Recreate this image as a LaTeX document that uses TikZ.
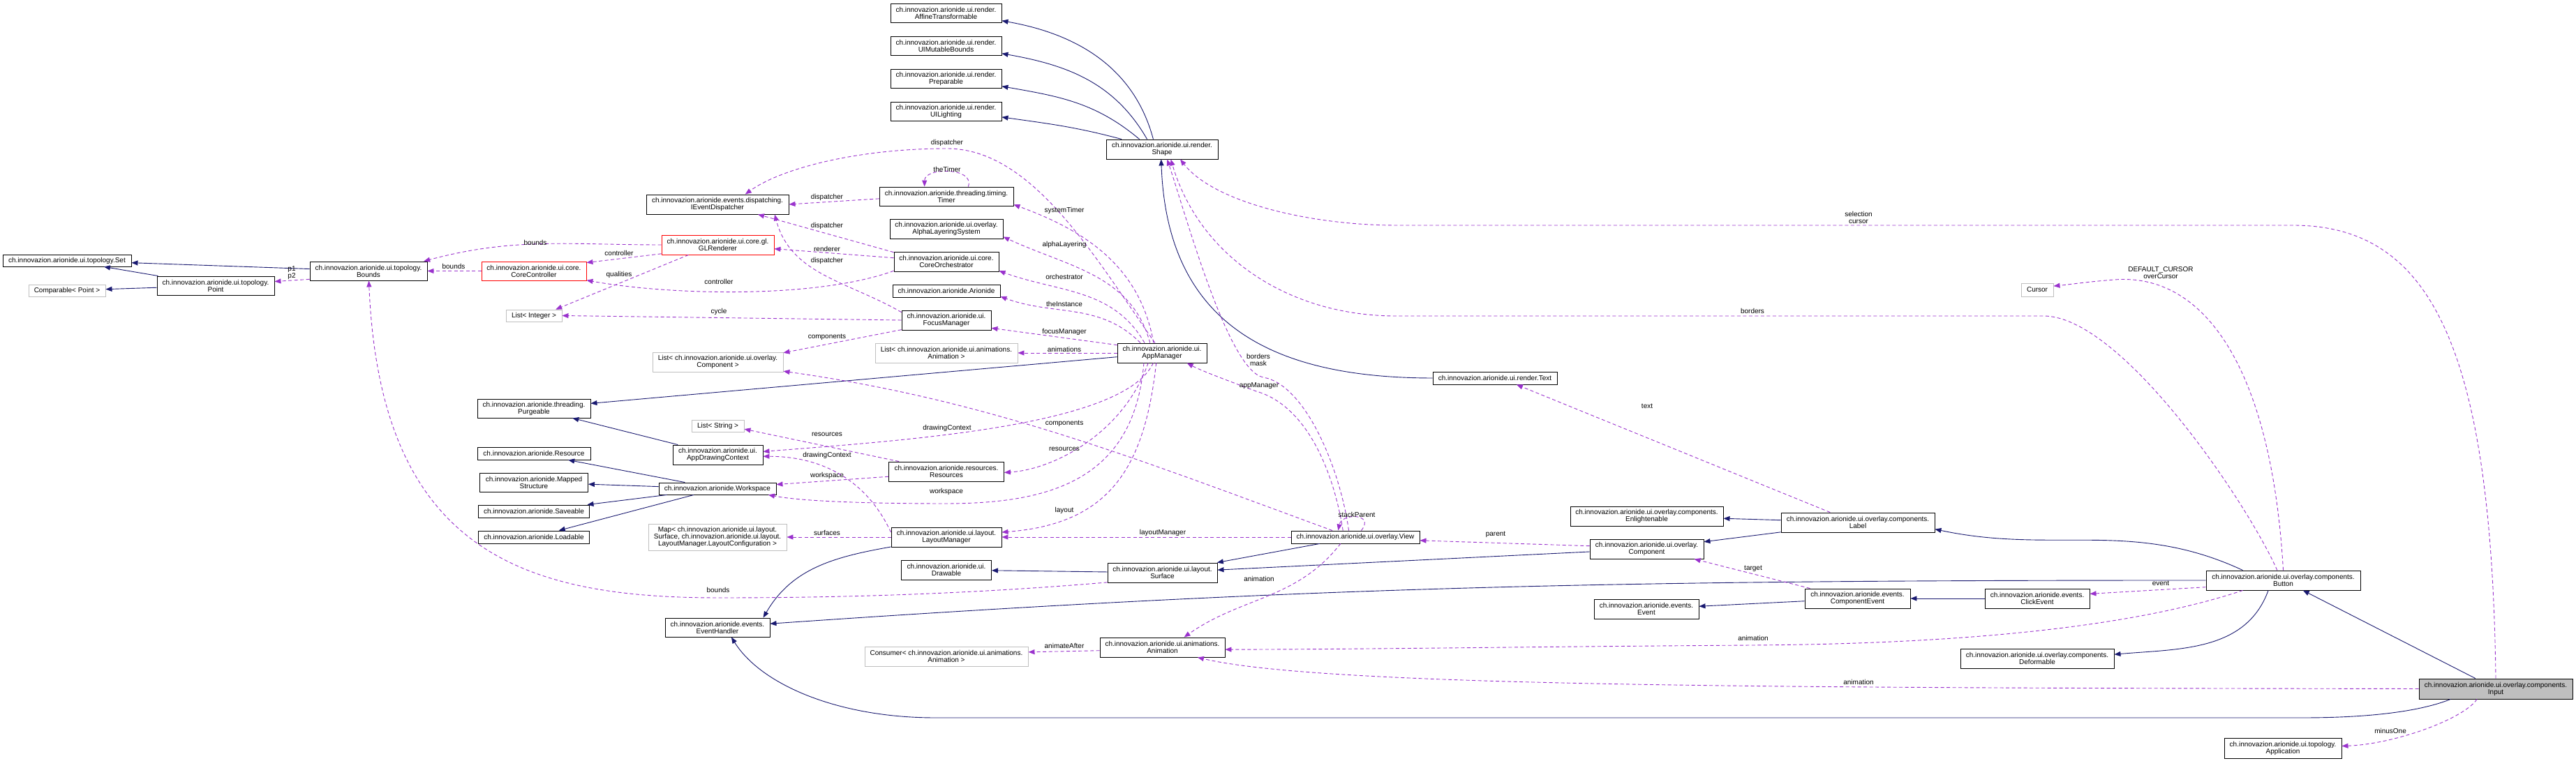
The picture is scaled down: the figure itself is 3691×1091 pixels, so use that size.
\documentclass[tikz,border=0pt]{standalone}
\usepackage{fontspec}
\setmainfont{Liberation Sans}
\usetikzlibrary{arrows.meta}
\definecolor{InhBlue}{HTML}{191970}
\definecolor{MemOrchid}{HTML}{9A32CD}
\definecolor{ExtGray}{HTML}{BFBFBF}
\newcommand{\dxfont}{\fontsize{10}{10}\selectfont}
\tikzset{
  cls/.style={rectangle,draw=black,fill=white,line width=0.9pt,align=center,
              inner xsep=2pt,inner ysep=1pt,font=\dxfont},
  ext/.style={cls,draw=ExtGray},
  trunc/.style={cls,draw=red},
  cur/.style={cls,fill=ExtGray},
  wh/.style 2 args={minimum width=#1pt,minimum height=#2pt},
  inh/.style={-{Triangle[length=9pt,width=7pt]},line width=0.9pt,color=InhBlue},
  mem/.style={-{Triangle[length=9pt,width=7pt]},line width=0.9pt,color=MemOrchid,
              dash pattern=on 5pt off 3.5pt},
  lbl/.style={font=\dxfont,text=black,align=center,inner sep=0pt},
}

\begin{document}
\begin{tikzpicture}[x=1pt,y=1pt]
  \path[fill=white,use as bounding box] (0,0) rectangle (3691,1091);

  % render column
  \node[cls,wh={159}{27}] (affine)  at (1355.5,1072.5) {ch.innovazion.arionide.ui.render.\\AffineTransformable};
  \node[cls,wh={159}{27}] (mutable) at (1355.5,1025.5) {ch.innovazion.arionide.ui.render.\\UIMutableBounds};
  \node[cls,wh={159}{27}] (prep)    at (1355.5,978.5)  {ch.innovazion.arionide.ui.render.\\Preparable};
  \node[cls,wh={159}{27}] (light)   at (1355.5,931.5)  {ch.innovazion.arionide.ui.render.\\UILighting};
  \node[cls,wh={160}{28}] (shp)     at (1665,877)      {ch.innovazion.arionide.ui.render.\\Shape};

  % topology and core
  \node[cls,wh={184}{17}]   (set)    at (96,717.5)   {ch.innovazion.arionide.ui.topology.Set};
  \node[ext,wh={110}{17}]   (cmp)    at (96,674.5)   {Comparable< Point >};
  \node[cls,wh={168}{27}]   (point)  at (309,681.5)  {ch.innovazion.arionide.ui.topology.\\Point};
  \node[cls,wh={168}{27}]   (bounds) at (528,702.5)  {ch.innovazion.arionide.ui.topology.\\Bounds};
  \node[trunc,wh={150}{27}] (ctrl)   at (765,702.5)  {ch.innovazion.arionide.ui.core.\\CoreController};
  \node[ext,wh={80}{17}]    (ilist)  at (765,638.5)  {List< Integer >};
  \node[trunc,wh={161}{28}] (glr)    at (1028.5,740) {ch.innovazion.arionide.ui.core.gl.\\GLRenderer};
  \node[cls,wh={204}{28}]   (disp)   at (1028,798)   {ch.innovazion.arionide.events.dispatching.\\IEventDispatcher};
  \node[ext,wh={187}{28}]   (clist)  at (1028.5,572) {List< ch.innovazion.arionide.ui.overlay.\\Component >};

  % members of the app manager
  \node[cls,wh={192}{27}] (timer) at (1356,809.5) {ch.innovazion.arionide.threading.timing.\\Timer};
  \node[cls,wh={162}{28}] (alpha) at (1356,763)   {ch.innovazion.arionide.ui.overlay.\\AlphaLayeringSystem};
  \node[cls,wh={150}{28}] (orch)  at (1356,716)   {ch.innovazion.arionide.ui.core.\\CoreOrchestrator};
  \node[cls,wh={154}{18}] (ario)  at (1356,674)   {ch.innovazion.arionide.Arionide};
  \node[cls,wh={128}{28}] (focus) at (1356,632)   {ch.innovazion.arionide.ui.\\FocusManager};
  \node[ext,wh={204}{28}] (alist) at (1356,585)   {List< ch.innovazion.arionide.ui.animations.\\Animation >};
  \node[cls,wh={128}{28}] (app)   at (1665,585)   {ch.innovazion.arionide.ui.\\AppManager};

  % resources and workspace
  \node[cls,wh={162}{27}] (purge)  at (765,505.5)    {ch.innovazion.arionide.threading.\\Purgeable};
  \node[ext,wh={75}{17}]  (slist)  at (1028.5,480.5) {List< String >};
  \node[cls,wh={129}{28}] (adc)    at (1028.5,439)   {ch.innovazion.arionide.ui.\\AppDrawingContext};
  \node[cls,wh={162}{18}] (res)    at (765,441)      {ch.innovazion.arionide.Resource};
  \node[cls,wh={155}{27}] (mapped) at (765,399.5)    {ch.innovazion.arionide.Mapped\\Structure};
  \node[cls,wh={168}{17}] (wsp)    at (1028,390.5)   {ch.innovazion.arionide.Workspace};
  \node[cls,wh={165}{28}] (rsrc)   at (1356,415)     {ch.innovazion.arionide.resources.\\Resources};
  \node[cls,wh={159}{18}] (save)   at (765,358)      {ch.innovazion.arionide.Saveable};
  \node[cls,wh={159}{18}] (load)   at (765,321)      {ch.innovazion.arionide.Loadable};

  % layout
  \node[ext,wh={198}{38}] (smap)     at (1028,321)   {Map< ch.innovazion.arionide.ui.layout.\\Surface, ch.innovazion.arionide.ui.layout.\\LayoutManager.LayoutConfiguration >};
  \node[cls,wh={158}{28}] (lay)      at (1356,321)   {ch.innovazion.arionide.ui.layout.\\LayoutManager};
  \node[cls,wh={129}{28}] (drawable) at (1356,274)   {ch.innovazion.arionide.ui.\\Drawable};
  \node[cls,wh={157}{28}] (surf)     at (1665.5,270) {ch.innovazion.arionide.ui.layout.\\Surface};
  \node[cls,wh={150}{27}] (evh)      at (1028,191.5) {ch.innovazion.arionide.events.\\EventHandler};
  \node[ext,wh={234}{28}] (cons)     at (1356,150)   {Consumer< ch.innovazion.arionide.ui.animations.\\Animation >};
  \node[cls,wh={179}{28}] (anim)     at (1665.5,163) {ch.innovazion.arionide.ui.animations.\\Animation};

  % overlay
  \node[cls,wh={184}{18}] (view)   at (1942,321)    {ch.innovazion.arionide.ui.overlay.View};
  \node[cls,wh={178}{18}] (txt)    at (2142,549)    {ch.innovazion.arionide.ui.render.Text};
  \node[cls,wh={219}{28}] (enl)    at (2359.5,351)  {ch.innovazion.arionide.ui.overlay.components.\\Enlightenable};
  \node[cls,wh={163}{28}] (comp)   at (2359.5,304)  {ch.innovazion.arionide.ui.overlay.\\Component};
  \node[cls,wh={150}{28}] (evt)    at (2359,218)    {ch.innovazion.arionide.events.\\Event};
  \node[cls,wh={220}{28}] (lab)    at (2662,342)    {ch.innovazion.arionide.ui.overlay.components.\\Label};
  \node[cls,wh={151}{28}] (cev)    at (2661.5,233)  {ch.innovazion.arionide.events.\\ComponentEvent};
  \node[cls,wh={150}{28}] (click)  at (2919,233)    {ch.innovazion.arionide.events.\\ClickEvent};
  \node[ext,wh={46}{19}]  (cursor) at (2919,675.5)  {Cursor};
  \node[cls,wh={220}{28}] (deform) at (2919,147)    {ch.innovazion.arionide.ui.overlay.components.\\Deformable};
  \node[cls,wh={221}{28}] (button) at (3271.5,259)  {ch.innovazion.arionide.ui.overlay.components.\\Button};
  \node[cls,wh={168}{29}] (appl)   at (3271,18.5)   {ch.innovazion.arionide.ui.topology.\\Application};
  \node[cur,wh={220}{29}] (input)  at (3576,103.5)  {ch.innovazion.arionide.ui.overlay.components.\\Input};

  % inheritance
  \draw[inh] (shp.131) to[out=105,in=-10] (affine.-8);
  \draw[inh] (shp.146) to[out=120,in=-10] (mutable.-8);
  \draw[inh] (shp.156) to[out=140,in=-10] (prep.-8);
  \draw[inh] (shp.166) to[out=165,in=-8] (light.-6);
  \draw[inh] (txt.west) to[out=180,in=-88,looseness=1.2] (shp.-95);
  \draw[inh] (point) -- (set);
  \draw[inh] (point) -- (cmp);
  \draw[inh] (bounds) -- (set);
  \draw[inh] (app) -- (purge);
  \draw[inh] (adc) -- (purge);
  \draw[inh] (wsp) -- (res);
  \draw[inh] (wsp) -- (mapped);
  \draw[inh] (wsp) -- (save);
  \draw[inh] (wsp) -- (load);
  \draw[inh] (lay.190) to[out=190,in=60] (evh.12);
  \draw[inh] (surf) -- (drawable);
  \draw[inh] (view) -- (surf);
  \draw[inh] (comp) -- (surf);
  \draw[inh] (button.west) .. controls (2350,259) and (1900,252) .. (evh.4);
  \draw[inh] (input.-167) .. controls (3470,72) and (3400,62) .. (3300,62) -- (1340,62)
             .. controls (1200,62) and (1090,110) .. (evh.-35);
  \draw[inh] (lab) -- (enl);
  \draw[inh] (lab) -- (comp);
  \draw[inh] (button.166) to[out=155,in=-12] (lab.-5);
  \draw[inh] (button.-146) to[out=-110,in=5] (deform.3);
  \draw[inh] (input) -- (button);
  \draw[inh] (click) -- (cev);
  \draw[inh] (cev) -- (evt);

  % members, left part
  \draw[mem] (bounds.188) -- (point.4) node[lbl] at (418,700) {p1\\p2};
  \draw[mem] (ctrl.west) -- (bounds.east) node[lbl] at (650,709) {bounds};
  \draw[mem] (glr.west) to[out=180,in=15] (bounds.10) node[lbl] at (767,743) {bounds};
  \draw[mem] (glr.189) -- (ctrl.9) node[lbl] at (887,728) {controller};
  \draw[mem] (glr.-161) -- (ilist.16) node[lbl] at (887,697) {qualities};
  \draw[mem] (orch.190) .. controls (1168,662) and (958,668) .. (ctrl.-10) node[lbl] at (1030,687) {controller};
  \draw[mem] (focus.west) -- (ilist.east) node[lbl] at (1030,644) {cycle};
  \draw[mem] (timer.182) -- (disp.east) node[lbl] at (1185,808) {dispatcher};
  \draw[mem] (timer.24) .. controls +(10,28) and +(0,28) .. (timer.156) node[lbl] at (1357,848) {theTimer};
  \draw[mem] (orch.170) -- (disp.-14.5) node[lbl] at (1185,767) {dispatcher};
  \draw[mem] (orch.176) -- (glr.-4) node[lbl] at (1185,734) {renderer};
  \draw[mem] (focus.170) to[out=150,in=-75] (disp.-10) node[lbl] at (1185,717) {dispatcher};
  \draw[mem] (focus.192) -- (clist.8) node[lbl] at (1185,608) {components};

  % members of the app manager
  \draw[mem] (app.125) .. controls (1570,720) and (1480,878) .. (1357,878)
             .. controls (1230,878) and (1120,850) .. (disp.20) node[lbl] at (1357,886) {dispatcher};
  \draw[mem] (app.130) to[out=100,in=-20] (timer.-7) node[lbl] at (1525,789) {systemTimer};
  \draw[mem] (app.140) to[out=105,in=-25] (alpha.-8) node[lbl] at (1525,740) {alphaLayering};
  \draw[mem] (app.150) to[out=120,in=-20] (orch.-10) node[lbl] at (1525,694) {orchestrator};
  \draw[mem] (app.155) to[out=135,in=-20] (ario.-6) node[lbl] at (1525,655) {theInstance};
  \draw[mem] (app.170) -- (focus.-10) node[lbl] at (1525,615) {focusManager};
  \draw[mem] (app.west) -- (alist.east) node[lbl] at (1525,590) {animations};
  \draw[mem] (app.-131) .. controls (1610,480) and (1300,460) .. (adc.4) node[lbl] at (1357,477) {drawingContext};
  \draw[mem] (app.-144) .. controls (1610,470) and (1510,418) .. (rsrc.-1) node[lbl] at (1525,447) {resources};
  \draw[mem] (app.-151) .. controls (1625,400) and (1500,369) .. (1354,369)
             .. controls (1250,369) and (1150,372) .. (wsp.-7) node[lbl] at (1356,386) {workspace};
  \draw[mem] (app.-120) .. controls (1640,420) and (1590,340) .. (lay.5) node[lbl] at (1525,359) {layout};

  % resources, layout and surfaces
  \draw[mem] (rsrc.168) -- (slist.-7) node[lbl] at (1185,468) {resources};
  \draw[mem] (rsrc.185) -- (wsp.4) node[lbl] at (1185,409) {workspace};
  \draw[mem] (lay.175) to[out=115,in=0] (adc.-2) node[lbl] at (1185,438) {drawingContext};
  \draw[mem] (lay.west) -- (smap.east) node[lbl] at (1185,327) {surfaces};
  \draw[mem] (surf.190) .. controls (1350,236) and (1150,234) .. (1029,234)
             .. controls (750,234) and (545,300) .. (bounds.-88) node[lbl] at (1029,245) {bounds};
  \draw[mem] (anim.183) -- (cons.3) node[lbl] at (1525,165) {animateAfter};

  % members of the view
  \draw[mem] (view.164) .. controls (1629,433) and (1419,517) .. (clist.-8) node[lbl] at (1525,484) {components};
  \draw[mem] (view.west) -- (lay.east) node[lbl] at (1666,327) {layoutManager};
  \draw[mem] (view.-156) to[out=-128,in=35] (anim.25) node[lbl] at (1804,261) {animation};
  \draw[mem] (view.135) .. controls (1920,420) and (1870,540) .. (1810,550)
             .. controls (1760,560) and (1700,780) .. (shp.-63) node[lbl] at (1803,575) {borders\\mask};
  \draw[mem] (view.152) .. controls (1910,420) and (1870,510) .. (1800,530)
             .. controls (1760,545) and (1720,560) .. (app.-22) node[lbl] at (1804,538) {appManager};
  \draw[mem] (view.48) .. controls +(20,25) and +(5,25) .. (view.159) node[lbl] at (1944,353) {stackParent};

  % members of the components
  \draw[mem] (lab.160) -- (txt.-17) node[lbl] at (2360,509) {text};
  \draw[mem] (comp.177) -- (view.-3) node[lbl] at (2143,325) {parent};
  \draw[mem] (cev.168) -- (comp.-12) node[lbl] at (2512,276) {target};
  \draw[mem] (button.185) -- (click.5) node[lbl] at (3096,255) {event};
  \draw[mem] (button.-166) .. controls (3050,190) and (2800,168) .. (2512,166)
             .. controls (2200,164) and (1950,160) .. (anim.-2) node[lbl] at (2512,176) {animation};
  \draw[mem] (button.121) .. controls (3220,370) and (3040,638) .. (2928,638) -- (2000,638)
             .. controls (1850,638) and (1720,720) .. (shp.-49) node[lbl] at (2511,645) {borders};
  \draw[mem] (button.north) .. controls (3255,560) and (3160,700) .. (3030,690)
             .. controls (2990,687) and (2965,683) .. (cursor.13) node[lbl] at (3096,700) {DEFAULT\_CURSOR\\overCursor};
  \draw[mem] (input.west) .. controls (2600,105) and (1900,105) .. (anim.-16) node[lbl] at (2663,113) {animation};
  \draw[mem] (input.-151) .. controls (3530,60) and (3430,24) .. (appl.2) node[lbl] at (3425,43) {minusOne};
  \draw[mem] (input.north) .. controls (3570,600) and (3480,768) .. (3285,768) -- (2000,768)
             .. controls (1880,768) and (1740,800) .. (shp.-29) node[lbl] at (2663,779) {selection\\cursor};
\end{tikzpicture}
\end{document}
